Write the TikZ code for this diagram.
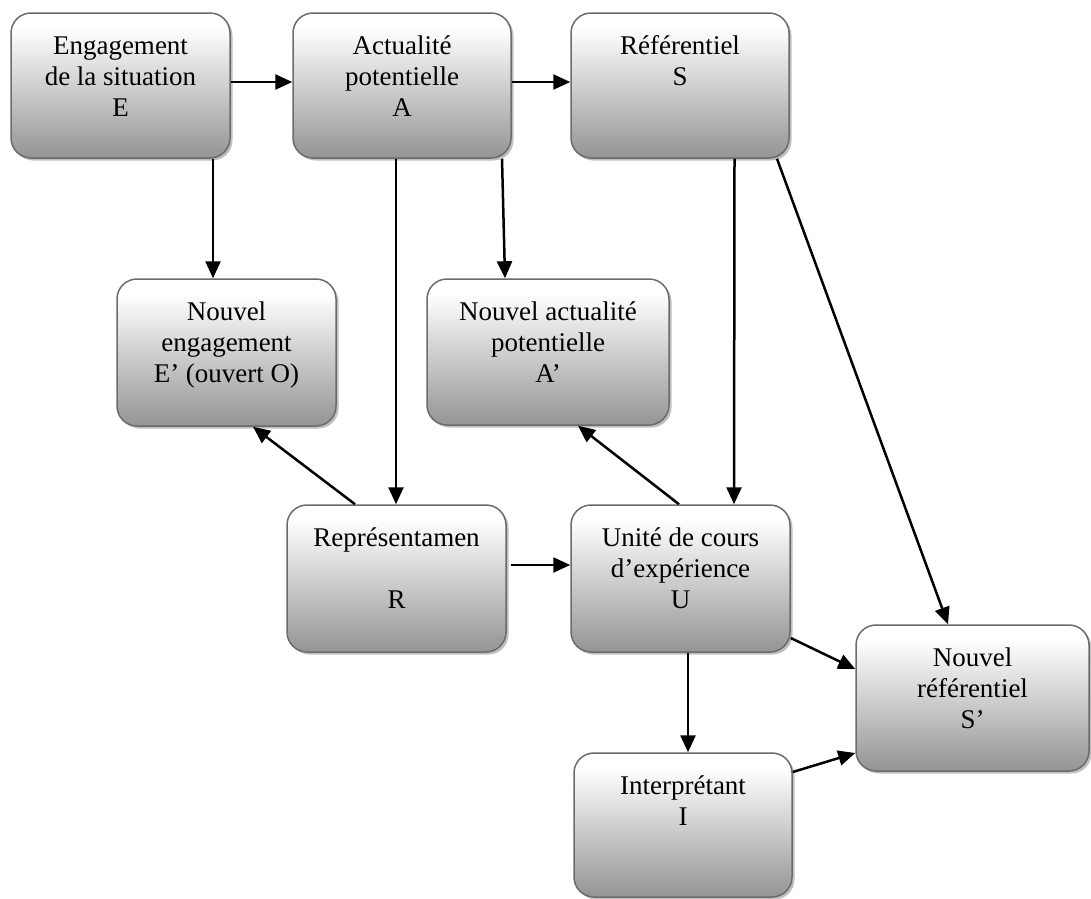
\documentclass[tikz,border=0pt]{standalone}
\usepackage{fontspec}
\setmainfont{Liberation Serif}
\usetikzlibrary{arrows.meta,shadows}
\pgfdeclareverticalshading{boxgrad}{100bp}{color(0bp)=(black!42); color(25bp)=(black!42); color(70bp)=(white); color(100bp)=(white)}
\newcommand{\bxt}[3]{\parbox[c][#2][t]{#1}{\centering\vspace*{20pt}\strut #3\par}}
\tikzset{
  bx/.style={rectangle, rounded corners=20pt, draw=black!58, line width=1.5pt,
    shade, shading=boxgrad, inner sep=0pt,
    drop shadow={shadow xshift=2.5pt, shadow yshift=-2.5pt, fill=black!25, opacity=1},
    font=\fontsize{27}{31}\selectfont},
  arr/.style={-{Triangle[length=17pt,width=15pt]}, line width=2.5pt, black}
}
\begin{document}
\begin{tikzpicture}[x=1pt,y=-1pt]
\useasboundingbox (0,0) rectangle (1091,898);
\node[bx] (E) at (120.5,85.5) {\bxt{219pt}{145pt}{Engagement\\de la situation\\E}};
\node[bx] (A) at (402,85.5) {\bxt{218pt}{145pt}{Actualité\\potentielle\\A}};
\node[bx] (S) at (680,85.5) {\bxt{218pt}{145pt}{Référentiel\\S}};
\node[bx] (Ep) at (226.5,352.5) {\bxt{219pt}{147pt}{Nouvel\\engagement\\E’ (ouvert O)}};
\node[bx] (Ap) at (548,352) {\bxt{242pt}{146pt}{Nouvel actualité\\potentielle\\A’}};
\node[bx] (R) at (396.5,578.5) {\bxt{219pt}{147pt}{Représentamen\\[31pt]R}};
\node[bx] (U) at (680.5,578.5) {\bxt{219pt}{147pt}{Unité de cours\\d’expérience\\U}};
\node[bx] (Sp) at (972.5,698) {\bxt{233pt}{146pt}{Nouvel\\référentiel\\S’}};
\node[bx] (I) at (683,825) {\bxt{218pt}{144pt}{Interprétant\\I}};

\draw[arr] ([yshift=3.5pt]E.east) -- ([yshift=3.5pt]A.west);
\draw[arr] ([yshift=3.5pt]A.east) -- ([yshift=3.5pt]S.west);
\draw[arr] ([xshift=92.5pt]E.south) -- ([xshift=-13.5pt]Ep.north);
\draw[arr] ([xshift=-6pt]A.south) -- ([xshift=-0.5pt]R.north);
\draw[arr] ([xshift=100pt]A.south) -- ([xshift=-43pt]Ap.north);
\draw[arr] ([xshift=54.5pt]S.south) -- ([xshift=53.5pt]U.north);
\draw[arr] ([xshift=97pt]S.south) -- ([xshift=-24.5pt]Sp.north);
\draw[arr] ([xshift=-41.5pt]R.north) -- ([xshift=26.5pt]Ep.south);
\draw[arr] ([xshift=-1.5pt]U.north) -- ([xshift=30pt]Ap.south);
\draw[arr] ([xshift=4pt,yshift=13.5pt]R.east) -- ([yshift=13.5pt]U.west);
\draw[arr] ([xshift=7.5pt]U.south) -- ([xshift=5pt]I.north);
\draw[arr] ([yshift=-59.5pt]U.east) -- ([yshift=29pt]Sp.west);
\draw[arr] ([yshift=53pt]I.east) -- ([yshift=-55pt]Sp.west);
\end{tikzpicture}
\end{document}
